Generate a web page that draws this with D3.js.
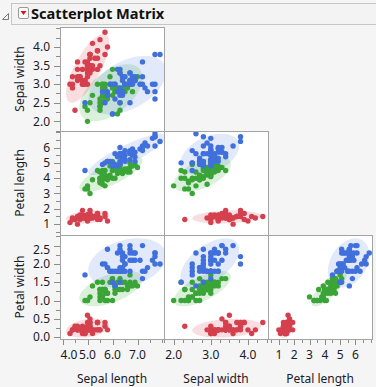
<!DOCTYPE html>
<html>
<head>
<meta charset="utf-8">
<script src="https://cdn.jsdelivr.net/npm/d3@7"></script>
<style>
  body { margin: 0; background: #f5f5f5; }
  svg { display: block; font-family: "Noto Sans", "Open Sans", sans-serif; }
</style>
</head>
<body>
<div id="matrix"></div>
<script>
// iris data (Fisher), rows 1-50 setosa, 51-100 versicolor, 101-150 virginica
var sepalLength = [5.1,4.9,4.7,4.6,5.0,5.4,4.6,5.0,4.4,4.9,5.4,4.8,4.8,4.3,5.8,5.7,5.4,5.1,5.7,5.1,5.4,5.1,4.6,5.1,4.8,5.0,5.0,5.2,5.2,4.7,4.8,5.4,5.2,5.5,4.9,5.0,5.5,4.9,4.4,5.1,5.0,4.5,4.4,5.0,5.1,4.8,5.1,4.6,5.3,5.0,
  7.0,6.4,6.9,5.5,6.5,5.7,6.3,4.9,6.6,5.2,5.0,5.9,6.0,6.1,5.6,6.7,5.6,5.8,6.2,5.6,5.9,6.1,6.3,6.1,6.4,6.6,6.8,6.7,6.0,5.7,5.5,5.5,5.8,6.0,5.4,6.0,6.7,6.3,5.6,5.5,5.5,6.1,5.8,5.0,5.6,5.7,5.7,6.2,5.1,5.7,
  6.3,5.8,7.1,6.3,6.5,7.6,4.9,7.3,6.7,7.2,6.5,6.4,6.8,5.7,5.8,6.4,6.5,7.7,7.7,6.0,6.9,5.6,7.7,6.3,6.7,7.2,6.2,6.1,6.4,7.2,7.4,7.9,6.4,6.3,6.1,7.7,6.3,6.4,6.0,6.9,6.7,6.9,5.8,6.8,6.7,6.7,6.3,6.5,6.2,5.9];
var sepalWidth = [3.5,3.0,3.2,3.1,3.6,3.9,3.4,3.4,2.9,3.1,3.7,3.4,3.0,3.0,4.0,4.4,3.9,3.5,3.8,3.8,3.4,3.7,3.6,3.3,3.4,3.0,3.4,3.5,3.4,3.2,3.1,3.4,4.1,4.2,3.1,3.2,3.5,3.6,3.0,3.4,3.5,2.3,3.2,3.5,3.8,3.0,3.8,3.2,3.7,3.3,
  3.2,3.2,3.1,2.3,2.8,2.8,3.3,2.4,2.9,2.7,2.0,3.0,2.2,2.9,2.9,3.1,3.0,2.7,2.2,2.5,3.2,2.8,2.5,2.8,2.9,3.0,2.8,3.0,2.9,2.6,2.4,2.4,2.7,2.7,3.0,3.4,3.1,2.3,3.0,2.5,2.6,3.0,2.6,2.3,2.7,3.0,2.9,2.9,2.5,2.8,
  3.3,2.7,3.0,2.9,3.0,3.0,2.5,2.9,2.5,3.6,3.2,2.7,3.0,2.5,2.8,3.2,3.0,3.8,2.6,2.2,3.2,2.8,2.8,2.7,3.3,3.2,2.8,3.0,2.8,3.0,2.8,3.8,2.8,2.8,2.6,3.0,3.4,3.1,3.0,3.1,3.1,3.1,2.7,3.2,3.3,3.0,2.5,3.0,3.4,3.0];
var petalLength = [1.4,1.4,1.3,1.5,1.4,1.7,1.4,1.5,1.4,1.5,1.5,1.6,1.4,1.1,1.2,1.5,1.3,1.4,1.7,1.5,1.7,1.5,1.0,1.7,1.9,1.6,1.6,1.5,1.4,1.6,1.6,1.5,1.5,1.4,1.5,1.2,1.3,1.4,1.3,1.5,1.3,1.3,1.3,1.6,1.9,1.4,1.6,1.4,1.5,1.4,
  4.7,4.5,4.9,4.0,4.6,4.5,4.7,3.3,4.6,3.9,3.5,4.2,4.0,4.7,3.6,4.4,4.5,4.1,4.5,3.9,4.8,4.0,4.9,4.7,4.3,4.4,4.8,5.0,4.5,3.5,3.8,3.7,3.9,5.1,4.5,4.5,4.7,4.4,4.1,4.0,4.4,4.6,4.0,3.3,4.2,4.2,4.2,4.3,3.0,4.1,
  6.0,5.1,5.9,5.6,5.8,6.6,4.5,6.3,5.8,6.1,5.1,5.3,5.5,5.0,5.1,5.3,5.5,6.7,6.9,5.0,5.7,4.9,6.7,4.9,5.7,6.0,4.8,4.9,5.6,5.8,6.1,6.4,5.6,5.1,5.6,6.1,5.6,5.5,4.8,5.4,5.6,5.1,5.1,5.9,5.7,5.2,5.0,5.2,5.4,5.1];
var petalWidth = [0.2,0.2,0.2,0.2,0.2,0.4,0.3,0.2,0.2,0.1,0.2,0.2,0.1,0.1,0.2,0.4,0.4,0.3,0.3,0.3,0.2,0.4,0.2,0.5,0.2,0.2,0.4,0.2,0.2,0.2,0.2,0.4,0.1,0.2,0.2,0.2,0.2,0.1,0.2,0.2,0.3,0.3,0.2,0.6,0.4,0.3,0.2,0.2,0.2,0.2,
  1.4,1.5,1.5,1.3,1.5,1.3,1.6,1.0,1.3,1.4,1.0,1.5,1.0,1.4,1.3,1.4,1.5,1.0,1.5,1.1,1.8,1.3,1.5,1.2,1.3,1.4,1.4,1.7,1.5,1.0,1.1,1.0,1.2,1.6,1.5,1.6,1.5,1.3,1.3,1.3,1.2,1.4,1.2,1.0,1.3,1.2,1.3,1.3,1.1,1.3,
  2.5,1.9,2.1,1.8,2.2,2.1,1.7,1.8,1.8,2.5,2.0,1.9,2.1,2.0,2.4,2.3,1.8,2.2,2.3,1.5,2.3,2.0,2.0,1.8,2.1,1.8,1.8,1.8,2.1,1.6,1.9,2.0,2.2,1.5,1.4,2.3,2.4,1.8,1.8,2.1,2.4,2.3,1.9,2.3,2.5,2.3,1.9,2.0,2.3,1.8];

var speciesNames = ["setosa", "versicolor", "virginica"];
var speciesCounts = [50, 50, 50];

var variableNames = ["Sepal length", "Sepal width", "Petal length", "Petal width"];
var variableDomains = [[3.9, 8.06], [1.74, 4.54], [0.29, 7.08], [-0.05, 2.79]];
var labelValues = [[4, 5, 6, 7], [2, 3, 4], [1, 2, 3, 4, 5, 6], [0, 0.5, 1, 1.5, 2, 2.5]];
var yLabelValues = [[], [2, 2.5, 3, 3.5, 4], [1, 2, 3, 4, 5, 6], [0, 0.5, 1, 1.5, 2, 2.5]];
var tickSteps = [0.5, 0.25, 0.5, 0.25];
var labelFormats = [".1f", ".1f", "d", ".1f"];

var speciesColors = ["#d5404e", "#3ba437", "#4070dc"];
var ellipseColors = ["#e05766", "#4cb548", "#6b8fe6"];

var columns = [sepalLength, sepalWidth, petalLength, petalWidth];
var species = [];
speciesCounts.forEach(function(n, k) { for (var i = 0; i < n; i++) species.push(k); });

var W = 376, H = 387;
var padLeft = 60, padTop = 27, cell = 104;

var svg = d3.select("#matrix").append("svg")
    .attr("width", W).attr("height", H);

svg.append("rect").attr("width", W).attr("height", H).attr("fill", "#f5f5f5");

// title bar
svg.append("rect").attr("x", 11.5).attr("y", 3.5).attr("width", W).attr("height", 21)
    .attr("fill", "#f3f3f3").attr("stroke", "#c6c6c6");
svg.append("path").attr("d", "M2.5,19.5 L8.5,13.5 L8.5,19.5 Z")
    .attr("fill", "none").attr("stroke", "#7a7a7a");
svg.append("rect").attr("x", 18.5).attr("y", 7.5).attr("width", 10).attr("height", 11).attr("rx", 1.5)
    .attr("fill", "#fafafa").attr("stroke", "#9a9a9a");
svg.append("path").attr("d", "M20.5,11 L26.5,11 L23.5,15 Z").attr("fill", "#d01c1c");
svg.append("text").attr("x", 31).attr("y", 19)
    .style("font-size", "14.6px").style("font-weight", "bold").attr("fill", "#111")
    .text("Scatterplot Matrix");

var scalesX = variableDomains.map(function(d, j) {
    return d3.scaleLinear().domain(d).range([padLeft + j * cell, padLeft + (j + 1) * cell]);
});
var scalesY = variableDomains.map(function(d, i) {
    return d3.scaleLinear().domain(d).range([padTop + i * cell, padTop + (i - 1) * cell]);
});

var defs = svg.append("defs");
var chi = Math.sqrt(5.991);

function ellipsePath(xs, ys, sx, sy) {
    var n = xs.length;
    var mx = d3.mean(xs), my = d3.mean(ys);
    var cxx = 0, cyy = 0, cxy = 0;
    for (var k = 0; k < n; k++) {
        cxx += (xs[k] - mx) * (xs[k] - mx);
        cyy += (ys[k] - my) * (ys[k] - my);
        cxy += (xs[k] - mx) * (ys[k] - my);
    }
    cxx /= (n - 1); cyy /= (n - 1); cxy /= (n - 1);
    var l11 = Math.sqrt(cxx), l21 = cxy / l11, l22 = Math.sqrt(Math.max(cyy - l21 * l21, 1e-9));
    var pts = d3.range(0, 101).map(function(s) {
        var t = s / 100 * 2 * Math.PI;
        var a = Math.cos(t) * chi, b = Math.sin(t) * chi;
        return [sx(mx + l11 * a), sy(my + l21 * a + l22 * b)];
    });
    return d3.line()(pts) + "Z";
}

// panels: row i (y variable 1..3), column j (x variable 0..i-1)
for (var i = 1; i < 4; i++) {
    for (var j = 0; j < i; j++) {
        var sx = scalesX[j], sy = scalesY[i];
        var x0 = sx.range()[0], y0 = sy.range()[1];
        var id = "clip" + i + j;
        defs.append("clipPath").attr("id", id).append("rect")
            .attr("x", x0).attr("y", y0).attr("width", cell).attr("height", cell);

        var g = svg.append("g");
        g.append("rect").attr("x", x0).attr("y", y0).attr("width", cell).attr("height", cell)
            .attr("fill", "#fff");
        var inner = g.append("g").attr("clip-path", "url(#" + id + ")");

        speciesNames.forEach(function(name, k) {
            var xs = [], ys = [];
            species.forEach(function(s, r) {
                if (s === k) { xs.push(columns[j][r]); ys.push(columns[i][r]); }
            });
            inner.append("path")
                .attr("d", ellipsePath(xs, ys, sx, sy))
                .attr("fill", ellipseColors[k])
                .attr("fill-opacity", 0.2);
        });

        inner.selectAll("circle")
            .data(species)
            .enter()
            .append("circle")
            .attr("cx", function(d, r) { return sx(columns[j][r]); })
            .attr("cy", function(d, r) { return sy(columns[i][r]); })
            .attr("r", 2.7)
            .attr("fill", function(d) { return speciesColors[d]; });
    }
}

// panel frames
var frames = svg.append("g").attr("fill", "none").attr("stroke", "#a3a3a3");
for (var i = 1; i < 4; i++) {
    for (var j = 0; j < i; j++) {
        frames.append("rect")
            .attr("x", padLeft + j * cell + 0.5).attr("y", padTop + (i - 1) * cell + 0.5)
            .attr("width", cell).attr("height", cell);
    }
}

function ticksFor(domain, step, labels) {
    var lo = Math.ceil(domain[0] / step - 1e-9) * step;
    return d3.range(lo, domain[1] + 1e-9, step).map(function(v) {
        v = Math.round(v * 100) / 100;
        return { v: v, major: labels.indexOf(v) >= 0 };
    });
}

var axisG = svg.append("g").attr("fill", "#1a1a2a").style("font-size", "12px");
var bottom = padTop + 3 * cell;

// bottom axes
for (var j = 0; j < 3; j++) {
    var sx = scalesX[j];
    var x0 = sx.range()[0];
    var tks = ticksFor(variableDomains[j], tickSteps[j], labelValues[j]);
    axisG.selectAll(null).data(tks).enter().append("line")
        .attr("x1", function(d) { return Math.round(sx(d.v)) + 0.5; })
        .attr("x2", function(d) { return Math.round(sx(d.v)) + 0.5; })
        .attr("y1", bottom + 1).attr("y2", function(d) { return bottom + (d.major ? 6 : 4); })
        .attr("stroke", "#8c8c8c");
    var fmt = d3.format(labelFormats[j]);
    axisG.selectAll(null).data(labelValues[j]).enter().append("text")
        .attr("x", function(d) { return Math.max(sx(d), x0 + 9); })
        .attr("y", bottom + 20)
        .attr("text-anchor", "middle")
        .text(function(d) { return fmt(d); });
    axisG.append("text")
        .attr("x", x0 + cell / 2).attr("y", bottom + 44)
        .attr("text-anchor", "middle")
        .text(variableNames[j]);
}

// left axes
for (var i = 1; i < 4; i++) {
    var sy = scalesY[i];
    var y0 = sy.range()[1];
    var tks = ticksFor(variableDomains[i], tickSteps[i], yLabelValues[i]);
    axisG.selectAll(null).data(tks).enter().append("line")
        .attr("y1", function(d) { return Math.round(sy(d.v)) + 0.5; })
        .attr("y2", function(d) { return Math.round(sy(d.v)) + 0.5; })
        .attr("x1", function(d) { return padLeft - (d.major ? 6 : 4); }).attr("x2", padLeft)
        .attr("stroke", "#8c8c8c");
    var fmt = d3.format(labelFormats[i]);
    axisG.selectAll(null).data(yLabelValues[i]).enter().append("text")
        .attr("x", padLeft - 10)
        .attr("y", function(d) { return Math.max(sy(d), y0 + 15); })
        .attr("dy", "0.35em")
        .attr("text-anchor", "end")
        .text(function(d) { return fmt(d); });
    axisG.append("text")
        .attr("transform", "translate(24," + (y0 + cell / 2) + ") rotate(-90)")
        .attr("text-anchor", "middle")
        .text(variableNames[i]);
}
</script>
</body>
</html>
